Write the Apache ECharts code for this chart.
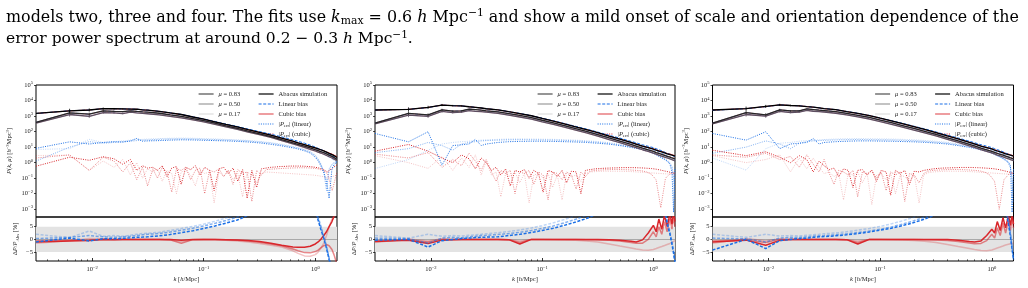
<!DOCTYPE html>
<html>
<head>
<meta charset="utf-8">
<script src="https://cdn.jsdelivr.net/npm/echarts@6/dist/echarts.min.js"></script>
<style>
html, body { margin: 0; padding: 0; background: #fff; }
#main { width: 1028px; height: 288px; }
</style>
</head>
<body>
<div id="main"></div>
<script>
// k bins [h/Mpc] of the smooth curves and of the residuals
var kBins = [0.00314, 0.00628, 0.00942, 0.01257, 0.0157, 0.0188, 0.022, 0.0251, 0.0283, 0.0314,
    0.04, 0.05, 0.063, 0.08, 0.1, 0.126, 0.158, 0.2, 0.25, 0.316,
    0.4, 0.5, 0.63, 0.7, 0.8, 0.9, 1.0, 1.06, 1.12, 1.19,
    1.26, 1.33, 1.41, 1.47, 1.52, 1.565];
// k bins of the noisy |P_err| (cubic) curves
var kFine = [0.00314, 0.00628, 0.00942, 0.01257, 0.0157, 0.0188, 0.022, 0.0251, 0.0283, 0.0314,
    0.035, 0.0385, 0.0425, 0.0469, 0.0517, 0.057, 0.0628, 0.0692, 0.0763, 0.0841,
    0.0927, 0.102, 0.113, 0.124, 0.137, 0.151, 0.166, 0.183, 0.202, 0.223,
    0.245, 0.27, 0.298, 0.329, 0.362, 0.4, 0.441, 0.486, 0.535, 0.59,
    0.65, 0.716, 0.79, 0.871, 0.96, 1.058, 1.166, 1.285, 1.418, 1.565];
var muLabels = ['μ = 0.83', 'μ = 0.50', 'μ = 0.17'];
var modelLabels = ['Abacus simulation', 'Linear bias', 'Cubic bias', '|P_err| (linear)', '|P_err| (cubic)'];
var decadeTicks = [-3, -2, -1, 0, 1, 2, 3, 4, 5];
var kDecadeTicks = [-2, -1, 0];
var residualTicks = [-5, 0, 5];
// half length (in decades) of the Abacus error bars on the first large-scale bins
var abacusErrDex = [0, 0.13, 0.1, 0.07, 0.05, 0.04];

// ---- panel 1 ---- (log10 P; rows are mu = 0.83, 0.50, 0.17)
var abacusP1 = [
    [3.17, 3.34, 3.39, 3.48, 3.47, 3.46, 3.45, 3.44, 3.40, 3.38, 3.30, 3.20, 3.10, 2.94, 2.80, 2.63, 2.46, 2.30, 2.12, 1.95, 1.77, 1.58, 1.38, 1.28, 1.16, 1.05, 0.95, 0.89, 0.83, 0.76, 0.68, 0.60, 0.52, 0.45, 0.39, 0.33],
    [2.60, 3.20, 3.12, 3.33, 3.30, 3.28, 3.34, 3.30, 3.27, 3.25, 3.18, 3.08, 2.98, 2.84, 2.70, 2.54, 2.37, 2.21, 2.03, 1.86, 1.68, 1.48, 1.28, 1.18, 1.06, 0.95, 0.84, 0.78, 0.71, 0.64, 0.56, 0.48, 0.40, 0.33, 0.27, 0.21],
    [2.55, 3.10, 2.98, 3.22, 3.20, 3.16, 3.25, 3.20, 3.17, 3.15, 3.08, 2.98, 2.88, 2.75, 2.62, 2.47, 2.31, 2.15, 1.97, 1.80, 1.62, 1.42, 1.21, 1.11, 0.98, 0.86, 0.75, 0.68, 0.62, 0.54, 0.46, 0.38, 0.30, 0.23, 0.17, 0.12]
];
var errLinP1 = [
    [0.92, 1.34, 1.20, 1.30, 1.35, 1.32, 1.40, 1.56, 1.38, 1.40, 1.42, 1.45, 1.47, 1.46, 1.44, 1.42, 1.40, 1.37, 1.33, 1.27, 1.18, 1.08, 0.95, 0.88, 0.76, 0.62, 0.35, 0.12, -0.2, -0.6, -1.2, -2.3, -0.4, -0.15, -0.05, 0.05],
    [0.1, 1.0, 1.35, 1.25, 1.3, 1.35, 1.38, 1.42, 1.45, 1.46, 1.5, 1.52, 1.53, 1.52, 1.50, 1.48, 1.46, 1.43, 1.39, 1.33, 1.25, 1.14, 1.0, 0.93, 0.82, 0.68, 0.45, 0.2, -0.1, -0.6, -1.8, -0.4, -0.1, 0.0, 0.05, 0.08],
    [0.85, 0.9, 1.5, 1.3, 1.35, 1.4, 1.45, 1.48, 1.5, 1.52, 1.55, 1.57, 1.58, 1.57, 1.55, 1.53, 1.5, 1.47, 1.43, 1.37, 1.29, 1.18, 1.05, 0.97, 0.86, 0.72, 0.5, 0.25, -0.05, -0.5, -1.5, -0.5, -0.15, -0.05, 0.0, 0.05]
];
var errCubP1 = [
    [-0.23, 0.35, 0.15, 0.38, 0.25, -0.1, 0.2, -0.5, -0.2, -0.35, -0.3, -0.5, -0.2, -0.9, -0.35, -0.25, -1.4, -0.3, -0.45, -0.2, -0.8, -0.3, -0.5, -1.8, -0.4, -0.3, -0.7, -0.35, -1.2, -0.45, -2.3, -0.5, -1.6, -0.4, -0.35, -0.3, -0.28, -0.25, -0.24, -0.22, -0.22, -0.22, -0.23, -0.25, -0.28, -0.33, -0.42, -0.6, -0.35, -0.15],
    [0.3, 0.5, -0.5, 0.35, 0.1, -0.6, 0.0, -1.1, -0.3, -1.5, -0.4, -1.0, -0.3, -0.6, -1.9, -0.4, -0.5, -0.3, -1.1, -0.5, -0.35, -2.0, -0.5, -0.6, -0.4, -0.9, -0.5, -1.4, -0.45, -0.7, -0.6, -2.5, -0.5, -0.8, -0.45, -0.42, -0.4, -0.38, -0.36, -0.35, -0.34, -0.33, -0.33, -0.34, -0.36, -0.4, -0.5, -0.7, -1.8, -0.6],
    [0.46, 0.48, -0.5, 0.1, -0.3, 0.2, -0.8, 0.0, -1.0, -0.4, -0.6, -0.4, -1.2, -0.5, -0.7, -2.0, -0.6, -0.5, -0.8, -1.5, -0.5, -0.7, -0.6, -2.6, -0.6, -0.9, -0.5, -1.1, -0.7, -2.2, -0.6, -0.8, -1.3, -0.7, -0.6, -0.62, -0.64, -0.66, -0.68, -0.7, -0.72, -0.74, -0.76, -0.78, -0.8, -0.84, -0.9, -1.0, -0.9, -0.8]
];
// residuals in percent
var resLinP1 = [
    [-1.0, 0.5, -0.6, 0.3, 0.2, 0.4, 0.6, 0.8, 0.9, 1.0, 1.4, 1.9, 2.6, 3.4, 4.3, 5.3, 6.4, 7.6, 9.5, 12, 16, 20, 24, 25, 25, 21, 12, 7.5, 4, 0.5, -3.5, -8, -12, -16, -20, -24],
    [0.3, 0.8, 1.5, 1.0, 0.8, 1.0, 1.2, 1.5, 1.8, 2.0, 2.3, 2.9, 3.6, 4.4, 5.3, 6.3, 7.4, 8.8, 10.5, 13, 17, 21, 25, 26, 26, 22, 13, 8.5, 5, 1, -3, -7.5, -12, -16, -20, -24],
    [2.0, 0.7, 3.3, 1.2, 1.5, 1.2, 1.6, 2.0, 2.3, 2.4, 2.8, 3.5, 4.3, 5.1, 6.0, 7.1, 8.4, 10, 12, 14.5, 18.5, 22.5, 26.5, 27.5, 27, 23, 14, 9, 5.5, 1.5, -2.5, -7, -11.5, -15.5, -19.5, -23.5]
];
var resCubP1 = [
    [-1.0, -0.6, -0.4, 0, -0.1, 0, 0, 0, 0, 0, 0, 0, -0.3, 0, 0, 0, -0.1, -0.2, -0.4, -0.8, -1.5, -2.3, -3.0, -3.1, -3.1, -2.7, -1.8, -1.0, 0, 1.5, 3, 5, 7, 9, 11, 12],
    [-0.5, -0.3, -0.2, 0, 0, 0, 0, 0, 0, 0, 0, -0.2, -1.5, -0.1, 0, 0, -0.1, -0.3, -0.6, -1.1, -1.8, -2.5, -3.8, -4.5, -5.2, -5.3, -4.8, -4.2, -3.3, -2.5, -2.0, -2.5, -4, -6, -8, -10],
    [-1.5, -0.5, 0.3, 0.2, 0, 0, 0, 0, 0, 0, 0, -0.2, -0.8, -0.1, 0, -0.1, -0.3, -0.6, -1.0, -1.6, -2.3, -3.0, -4.5, -5.5, -6.5, -6.6, -6.0, -5.0, -3.5, -1.5, 1.5, 5, 8, 10, 12, 14]
];

// ---- panel 2 ----
var abacusP2 = [
    [3.39, 3.43, 3.56, 3.71, 3.67, 3.65, 3.60, 3.56, 3.52, 3.47, 3.40, 3.28, 3.16, 3.02, 2.85, 2.68, 2.50, 2.31, 2.13, 1.93, 1.71, 1.52, 1.30, 1.20, 1.06, 0.96, 0.87, 0.80, 0.74, 0.69, 0.63, 0.57, 0.52, 0.48, 0.45, 0.42],
    [2.55, 3.17, 3.07, 3.40, 3.32, 3.33, 3.45, 3.42, 3.38, 3.34, 3.27, 3.16, 3.04, 2.90, 2.73, 2.56, 2.38, 2.19, 2.01, 1.81, 1.59, 1.39, 1.17, 1.07, 0.93, 0.82, 0.72, 0.65, 0.59, 0.53, 0.47, 0.41, 0.35, 0.30, 0.27, 0.24],
    [2.50, 3.06, 2.98, 3.30, 3.22, 3.25, 3.35, 3.30, 3.28, 3.25, 3.17, 3.06, 2.94, 2.80, 2.63, 2.46, 2.28, 2.09, 1.91, 1.71, 1.49, 1.29, 1.07, 0.97, 0.83, 0.72, 0.62, 0.55, 0.48, 0.42, 0.36, 0.30, 0.24, 0.19, 0.15, 0.12]
];
var errLinP2 = [
    [1.88, 1.34, 1.99, -0.16, 1.1, 1.15, 1.2, 1.5, 1.1, 1.2, 1.3, 1.35, 1.37, 1.38, 1.38, 1.37, 1.35, 1.33, 1.3, 1.25, 1.19, 1.1, 0.98, 0.92, 0.83, 0.72, 0.6, 0.5, 0.4, 0.3, 0.2, 0.1, -0.1, -0.6, -3.2, -0.3],
    [0.64, 0.9, 1.3, 1.1, 0.8, 1.2, 1.3, 1.35, 1.4, 1.42, 1.45, 1.47, 1.48, 1.47, 1.46, 1.45, 1.43, 1.40, 1.36, 1.31, 1.24, 1.14, 1.01, 0.94, 0.84, 0.73, 0.62, 0.53, 0.44, 0.34, 0.24, 0.12, -0.05, -0.3, -1.0, -2.5],
    [-0.38, 0.2, 0.8, 1.2, 1.3, 1.35, 1.38, 1.42, 1.45, 1.47, 1.5, 1.52, 1.53, 1.52, 1.51, 1.5, 1.48, 1.45, 1.41, 1.36, 1.29, 1.19, 1.06, 0.99, 0.89, 0.78, 0.67, 0.58, 0.49, 0.39, 0.29, 0.17, 0.0, -0.25, -0.8, -2.0]
];
var errCubP2 = [
    [0.74, 1.17, 0.74, 0.3, 0.0, 0.5, 0.25, -0.4, 0.3, 0.0, -0.5, -0.3, -0.8, -0.4, -1.5, -0.5, -0.6, -0.45, -1.0, -0.5, -0.7, -1.9, -0.5, -0.6, -0.9, -0.5, -1.3, -0.55, -0.6, -2.0, -0.5, -0.45, -0.4, -0.38, -0.36, -0.35, -0.34, -0.33, -0.32, -0.32, -0.32, -0.33, -0.34, -0.36, -0.38, -0.42, -0.48, -0.55, -0.62, -0.7],
    [0.55, 0.3, 0.65, -0.3, 0.2, -0.2, 0.6, 0.1, -0.5, 0.2, -0.6, -1.2, -0.5, -0.7, -0.5, -2.0, -0.6, -0.7, -0.5, -1.4, -0.6, -0.8, -2.4, -0.6, -0.7, -1.1, -0.6, -0.8, -1.7, -0.6, -0.9, -0.55, -0.5, -0.48, -0.46, -0.45, -0.44, -0.44, -0.45, -0.46, -0.48, -0.5, -0.53, -0.6, -0.75, -1.1, -2.9, -1.0, -0.7, -0.65],
    [0.45, 0.0, -0.37, 0.4, -0.5, 0.3, -0.3, 0.5, -0.8, 0.1, -0.8, -0.6, -2.2, -0.7, -0.9, -0.6, -1.3, -0.7, -2.6, -0.8, -0.7, -1.0, -0.7, -1.6, -0.8, -2.4, -0.7, -0.9, -0.8, -1.2, -0.7, -0.6, -0.58, -0.56, -0.55, -0.55, -0.55, -0.55, -0.56, -0.57, -0.58, -0.6, -0.62, -0.64, -0.66, -0.68, -0.7, -0.72, -0.74, -0.76]
];
var resLinP2 = [
    [-0.3, 0, -3.0, -0.5, 0, 0.3, 0.5, 0.7, 0.8, 0.9, 1.0, 1.5, 2.0, 2.7, 3.5, 4.4, 5.5, 6.8, 8.2, 10, 12.5, 15, 18, 20, 22, 24, 25, 25, 24, 19, 12, 6, 2, -2, -5.5, -9],
    [0.5, 0.3, -1.5, 0.5, 0.8, 0.6, 1.0, 1.2, 1.5, 1.6, 1.9, 2.3, 2.8, 3.5, 4.3, 5.3, 6.5, 7.9, 9.5, 11.5, 14, 17, 20, 22, 24, 26, 27, 27, 26, 21, 13, 7, 2.5, -1.5, -5, -9],
    [1.5, 0.5, 2.0, 1.2, 1.5, 1.3, 1.6, 1.8, 2.0, 2.2, 2.6, 3.1, 3.7, 4.5, 5.4, 6.5, 7.8, 9.3, 11, 13, 16, 19, 22, 24, 26, 28, 29, 29, 28, 22, 14, 8, 3, -1, -4.5, -8.5]
];
var resCubP2 = [
    [-0.8, -0.3, -1.6, -0.3, -0.1, 0, 0, 0, 0, 0, 0, -0.1, -1.8, 0, 0, 0, 0, 0, 0, 0, -0.1, -0.3, -0.7, -1.0, -0.2, 2.5, 5.5, 3, 8, 4, 9.5, 5, 10, 6, 11, 7],
    [-0.5, -0.2, -1.0, 0, 0, 0, 0, 0, 0, 0, 0, -0.1, -1.2, 0, 0, 0, 0, 0, -0.1, -0.2, -0.3, -0.6, -1.2, -1.5, -1.5, 0, 3, 1, 5, 2, 7, 3, 8, 4, 9, 5],
    [-1.2, 0.2, -0.6, 0.3, 0, 0, 0, 0, 0, 0, 0, -0.1, -0.6, 0, 0, -0.1, -0.2, -0.3, -0.6, -1.0, -1.8, -2.6, -3.4, -3.8, -4.2, -4.3, -4.0, -3.6, -3.2, -2.8, -2.4, -2.0, -1.6, -1.2, -0.8, -0.5]
];

// ---- panel 3 ----
var abacusP3 = [
    [3.39, 3.48, 3.62, 3.72, 3.68, 3.66, 3.61, 3.57, 3.53, 3.48, 3.41, 3.29, 3.17, 3.03, 2.86, 2.69, 2.51, 2.32, 2.14, 1.94, 1.72, 1.53, 1.31, 1.21, 1.07, 0.97, 0.88, 0.81, 0.75, 0.69, 0.63, 0.57, 0.52, 0.48, 0.45, 0.42],
    [2.55, 3.22, 3.08, 3.40, 3.33, 3.34, 3.46, 3.42, 3.38, 3.35, 3.28, 3.17, 3.05, 2.91, 2.74, 2.57, 2.39, 2.20, 2.02, 1.82, 1.60, 1.40, 1.18, 1.08, 0.94, 0.83, 0.73, 0.66, 0.60, 0.54, 0.48, 0.42, 0.36, 0.31, 0.28, 0.25],
    [2.50, 3.10, 2.99, 3.30, 3.23, 3.26, 3.36, 3.31, 3.29, 3.26, 3.18, 3.07, 2.95, 2.81, 2.64, 2.47, 2.29, 2.10, 1.92, 1.72, 1.50, 1.30, 1.08, 0.98, 0.84, 0.73, 0.63, 0.56, 0.49, 0.43, 0.37, 0.31, 0.25, 0.20, 0.16, 0.13]
];
var errLinP3 = [
    [1.88, 1.45, 1.99, 0.9, 1.2, 1.25, 1.3, 1.55, 1.2, 1.3, 1.35, 1.38, 1.4, 1.4, 1.39, 1.38, 1.36, 1.34, 1.31, 1.26, 1.2, 1.1, 0.98, 0.92, 0.82, 0.72, 0.62, 0.53, 0.45, 0.36, 0.27, 0.17, 0.05, -0.2, -3.2, -0.4],
    [0.6, 1.0, 1.4, 1.2, 0.9, 1.25, 1.35, 1.4, 1.42, 1.44, 1.46, 1.48, 1.49, 1.48, 1.47, 1.46, 1.44, 1.41, 1.37, 1.32, 1.25, 1.15, 1.02, 0.95, 0.85, 0.74, 0.63, 0.54, 0.45, 0.35, 0.25, 0.13, -0.05, -0.35, -1.2, -2.6],
    [0.3, -0.48, 0.9, 1.25, 1.3, 1.38, 1.42, 1.45, 1.47, 1.49, 1.52, 1.54, 1.55, 1.54, 1.53, 1.52, 1.5, 1.47, 1.43, 1.38, 1.31, 1.21, 1.08, 1.01, 0.91, 0.8, 0.69, 0.6, 0.51, 0.41, 0.3, 0.18, 0.0, -0.3, -0.9, -2.0]
];
var errCubP3 = [
    [0.8, 0.45, 0.7, 0.35, 0.0, 0.45, 0.2, -0.6, 0.1, -0.2, -0.45, -0.35, -0.9, -0.4, -0.5, -1.6, -0.5, -0.45, -0.8, -0.5, -1.2, -0.5, -0.6, -2.1, -0.5, -0.7, -0.5, -1.4, -0.55, -0.6, -0.5, -0.45, -0.4, -0.37, -0.35, -0.34, -0.33, -0.32, -0.31, -0.31, -0.31, -0.32, -0.33, -0.35, -0.37, -0.4, -0.45, -0.52, -0.6, -0.68],
    [0.5, 0.35, 0.6, 0.2, 0.4, -0.3, 0.5, -0.1, -0.6, 0.2, -0.7, -1.4, -0.5, -0.6, -0.8, -0.5, -2.2, -0.6, -0.7, -0.5, -1.0, -0.6, -1.8, -0.6, -0.8, -0.6, -2.5, -0.7, -0.8, -1.3, -0.7, -0.55, -0.5, -0.48, -0.46, -0.45, -0.44, -0.44, -0.45, -0.46, -0.48, -0.5, -0.54, -0.62, -0.8, -1.2, -3.0, -1.1, -0.75, -0.68],
    [0.45, 0.0, 0.2, 0.5, -0.6, 0.3, -0.4, 0.3, -0.3, -0.7, -0.6, -0.9, -0.7, -2.4, -0.7, -0.8, -0.6, -1.3, -0.7, -2.7, -0.8, -0.7, -1.1, -0.7, -2.0, -0.8, -0.9, -1.2, -0.8, -2.6, -0.8, -0.65, -0.6, -0.58, -0.56, -0.55, -0.55, -0.55, -0.56, -0.57, -0.58, -0.6, -0.62, -0.64, -0.66, -0.68, -0.7, -0.72, -0.74, -0.76]
];
var resLinP3 = [
    [-4.2, 0, -3.6, -0.5, 0, 0.3, 0.5, 0.8, 1.0, 1.1, 1.4, 1.8, 2.3, 2.9, 3.6, 4.4, 5.4, 6.6, 8, 9.7, 12, 14.5, 17, 19, 21, 23, 24, 24, 23, 21, 17, 12, 6, 1, -4, -8],
    [0.5, 0.2, -1.0, 0.5, 0.8, 0.7, 1.0, 1.2, 1.4, 1.5, 1.8, 2.2, 2.7, 3.3, 4.0, 4.9, 6.0, 7.3, 8.8, 10.6, 13, 16, 19, 21, 23, 25, 26, 26, 25, 23, 19, 13, 7, 2, -3, -8],
    [2.0, 0.8, 2.0, 1.3, 1.5, 1.3, 1.6, 1.8, 2.0, 2.2, 2.5, 3.0, 3.6, 4.3, 5.1, 6.1, 7.3, 8.7, 10.3, 12.3, 15, 18, 21, 23, 25, 27, 28, 28, 27, 25, 21, 15, 8, 3, -2, -7]
];
var resCubP3 = [
    [-1.0, -0.3, -2.3, -0.4, 0, 0, 0, 0, 0, 0, 0, -0.1, -1.8, 0, 0, 0, 0, 0, 0, 0, 0, -0.3, -0.8, -1.0, -0.6, 1.5, 4, 2.5, 7, 3.5, 8.5, 4.5, 9.5, 5.5, 10, 6],
    [-0.6, -0.2, -1.2, 0, 0, 0, 0, 0, 0, 0, 0, -0.1, -1.2, 0, 0, 0, 0, 0, -0.1, -0.2, -0.4, -0.8, -1.4, -1.7, -1.6, -0.5, 2, 0.5, 4.5, 1.5, 6.5, 2.5, 7.5, 3.5, 8.5, 4.5],
    [-1.5, 0.3, -0.5, 0.2, 0, 0, 0, 0, 0, 0, 0, -0.1, -0.6, 0, 0, -0.1, -0.2, -0.4, -0.7, -1.2, -2.0, -2.8, -3.6, -4.0, -4.4, -4.5, -4.2, -3.8, -3.4, -3.0, -2.6, -2.2, -1.9, -1.7, -1.5, -1.4]
];

var captionLines = [
    'models two, three and four. The fits use {i|k}{sub|max} = 0.6 {i|h} Mpc{sup|\u22121} and show a mild onset of scale and orientation dependence of the',
    'error power spectrum at around 0.2 \u2212 0.3 {i|h} Mpc{sup|\u22121}.'
];

(function () {
    var myChart = echarts.init(document.getElementById('main'));
    var SERIF = 'Liberation Serif';
    var BLUE = '#1a6fe6', RED = '#d9262b';
    var abacusColor = ['#000000', '#262626', '#5e4f61'];
    var muAlpha = [1, 0.55, 0.28];
    var XMIN = Math.log10(kBins[0]), XMAX = Math.log10(kBins[kBins.length - 1]);
    var TOP_Y = 85, TOP_H = 132, BOT_Y = 217, BOT_H = 44;
    var DASH = [3, 1.6], DOT = [1, 1.3];
    var CAP_SIZE = [15.9, 15.5];

    var panels = [
        { left: 36, width: 301, ab: abacusP1, el: errLinP1, ec: errCubP1, rl: resLinP1, rc: resCubP1 },
        { left: 375, width: 300, ab: abacusP2, el: errLinP2, ec: errCubP2, rl: resLinP2, rc: resCubP2 },
        { left: 712.5, width: 301, ab: abacusP3, el: errLinP3, ec: errCubP3, rl: resLinP3, rc: resCubP3 }
    ];

    // minor ticks of the log k axis: 2..9 x 10^n
    var kMinorTicks = [];
    [-3, -2, -1, 0].forEach(function (n) {
        for (var m = 2; m <= 9; m++) {
            var v = n + Math.log10(m);
            if (v > XMIN && v < XMAX) kMinorTicks.push(v);
        }
    });

    function powLabel(v) {
        var e = Math.round(v);
        return '10{s|' + (e < 0 ? '\u2212' + (-e) : e) + '}';
    }
    function plainLabel(v) {
        return v < 0 ? '\u2212' + (-v) : '' + v;
    }
    var tickText = {
        fontFamily: SERIF, fontSize: 6.5, color: '#222', lineHeight: 9,
        rich: { s: { fontFamily: SERIF, fontSize: 4.6, color: '#222', verticalAlign: 'top', lineHeight: 9 } }
    };
    var nameText = {
        fontFamily: SERIF, fontSize: 6.5, color: '#222', lineHeight: 9,
        rich: {
            i: { fontFamily: SERIF, fontSize: 6.5, fontStyle: 'italic', color: '#222' },
            s: { fontFamily: SERIF, fontSize: 4.6, color: '#222', verticalAlign: 'top', lineHeight: 9 },
            b: { fontFamily: SERIF, fontSize: 4.6, color: '#222', verticalAlign: 'bottom', lineHeight: 9 }
        }
    };

    function logPts(ks, vals) {
        return ks.map(function (k, i) { return [Math.log10(k), vals[i]]; });
    }
    function modelPts(ab, res) {
        return kBins.map(function (k, i) { return [Math.log10(k), ab[i] + Math.log10(1 + res[i] / 100)]; });
    }
    function resPts(res) {
        return kBins.map(function (k, i) { return [Math.log10(k), res[i]]; });
    }
    function errBarPts(ab) {
        var out = [];
        abacusErrDex.forEach(function (h, i) {
            if (h > 0) out.push([Math.log10(kBins[i]), ab[i], h]);
        });
        return out;
    }
    function line(name, xi, yi, data, color, opacity, width, type, z) {
        return {
            name: name, type: 'line', xAxisIndex: xi, yAxisIndex: yi, data: data,
            symbol: 'none', showSymbol: false, silent: true, animation: false, z: z,
            lineStyle: { color: color, opacity: opacity, width: width, type: type },
            itemStyle: { color: color }
        };
    }
    function errBars(xi, yi, data, color) {
        return {
            type: 'custom', xAxisIndex: xi, yAxisIndex: yi, data: data, silent: true, animation: false, z: 4,
            renderItem: function (params, api) {
                var x = api.value(0), y = api.value(1), h = api.value(2);
                var a = api.coord([x, y - h]), b = api.coord([x, y + h]);
                return { type: 'line', shape: { x1: a[0], y1: a[1], x2: b[0], y2: b[1] }, style: { stroke: color, lineWidth: 0.8 } };
            }
        };
    }

    var grids = [], xAxes = [], yAxes = [], series = [], legends = [];

    panels.forEach(function (p, i) {
        var gTop = 2 * i, gBot = 2 * i + 1;
        var xTop = 3 * i, xBot = 3 * i + 1;
        grids.push({ left: p.left, top: TOP_Y, width: p.width, height: TOP_H, show: true, borderColor: '#000', borderWidth: 1, backgroundColor: 'transparent', containLabel: false, outerBoundsMode: 'none' });
        grids.push({ left: p.left, top: BOT_Y, width: p.width, height: BOT_H, show: true, borderColor: '#000', borderWidth: 1, backgroundColor: 'transparent', containLabel: false, outerBoundsMode: 'none' });

        xAxes.push({ gridIndex: gTop, type: 'value', min: XMIN, max: XMAX, position: 'bottom',
            axisLine: { show: false, onZero: false }, axisTick: { show: false }, axisLabel: { show: false }, splitLine: { show: false } });
        xAxes.push({ gridIndex: gBot, type: 'value', min: XMIN, max: XMAX, position: 'bottom',
            axisLine: { show: false, onZero: false }, splitLine: { show: false },
            axisTick: { show: true, inside: true, length: 3, customValues: kDecadeTicks, lineStyle: { color: '#000', width: 0.8 } },
            axisLabel: Object.assign({ customValues: kDecadeTicks, formatter: powLabel, margin: 4 }, tickText),
            name: '{i|k} [{i|h}/Mpc]', nameLocation: 'middle', nameGap: 13, nameTextStyle: nameText });
        xAxes.push({ gridIndex: gBot, type: 'value', min: XMIN, max: XMAX, position: 'bottom',
            axisLine: { show: false, onZero: false }, splitLine: { show: false }, axisLabel: { show: false },
            axisTick: { show: true, inside: true, length: 1.7, customValues: kMinorTicks, lineStyle: { color: '#000', width: 0.6 } } });

        yAxes.push({ gridIndex: gTop, type: 'value', min: -3.5, max: 5,
            axisLine: { show: false, onZero: false }, splitLine: { show: false },
            axisTick: { show: true, length: 2, customValues: decadeTicks, lineStyle: { color: '#000', width: 0.7 } },
            axisLabel: Object.assign({ customValues: decadeTicks, formatter: powLabel, margin: 3 }, tickText),
            name: '{i|P}({i|k}, {i|μ}) [{i|h}{s|\u22123}Mpc{s|3}]', nameLocation: 'middle', nameGap: 22, nameRotate: 90, nameTextStyle: nameText });
        yAxes.push({ gridIndex: gBot, type: 'value', min: -8.5, max: 8.8,
            axisLine: { show: false, onZero: false }, splitLine: { show: false },
            axisTick: { show: true, length: 2, customValues: residualTicks, lineStyle: { color: '#000', width: 0.7 } },
            axisLabel: Object.assign({ customValues: residualTicks, formatter: plainLabel, margin: 3 }, tickText),
            name: 'Δ{i|P}/{i|P}{b|Abs} [%]', nameLocation: 'middle', nameGap: 16, nameRotate: 90, nameTextStyle: nameText });

        var yT = 2 * i, yB = 2 * i + 1;
        var j;
        // top panel: |P_err| first, then the models, Abacus on top
        for (j = 2; j >= 0; j--) {
            series.push(line('errCub' + i + j, xTop, yT, logPts(kFine, p.ec[j]), RED, muAlpha[j], 1, DOT, 2));
            series.push(line('errLin' + i + j, xTop, yT, logPts(kBins, p.el[j]), BLUE, muAlpha[j], 1, DOT, 2));
        }
        for (j = 2; j >= 0; j--) {
            series.push(line('cub' + i + j, xTop, yT, modelPts(p.ab[j], p.rc[j]), RED, muAlpha[j], 1, 'solid', 3));
            series.push(line('lin' + i + j, xTop, yT, modelPts(p.ab[j], p.rl[j]), BLUE, muAlpha[j], 1, DASH, 3));
        }
        for (j = 2; j >= 0; j--) {
            series.push(line('abacus' + i + j, xTop, yT, logPts(kBins, p.ab[j]), abacusColor[j], 1, 1.3, 'solid', 4));
            series.push(errBars(xTop, yT, errBarPts(p.ab[j]), abacusColor[j]));
        }
        // bottom panel: +-5% band and zero line
        series.push({ type: 'line', xAxisIndex: xBot, yAxisIndex: yB, data: [], silent: true, z: 1, symbol: 'none',
            markArea: { silent: true, z: 1, itemStyle: { color: '#e3e3e3' }, data: [[{ yAxis: -5 }, { yAxis: 5 }]] },
            markLine: { silent: true, z: 1, symbol: ['none', 'none'], label: { show: false }, animation: false,
                lineStyle: { color: '#9a9a9a', width: 0.8, type: 'solid' }, data: [{ yAxis: 0 }] } });
        for (j = 2; j >= 0; j--) {
            series.push(line('resCub' + i + j, xBot, yB, resPts(p.rc[j]), RED, muAlpha[j], 1.5, 'solid', 3));
        }
        for (j = 2; j >= 0; j--) {
            series.push(line('resLin' + i + j, xBot, yB, resPts(p.rl[j]), BLUE, muAlpha[j], 1.5, DASH, 4));
        }

        var legendBase = {
            orient: 'vertical', itemWidth: 15, itemHeight: 6, itemGap: 2, padding: 0, selectedMode: false, z: 1,
            itemStyle: { opacity: 0 }, lineStyle: { width: 1.2 },
            formatter: function (name) {
                return name.replace('μ', '{i|μ}').replace('|P_err|', '|{i|P}{b|err}|');
            },
            textStyle: {
                fontFamily: SERIF, fontSize: 6.5, color: '#222', lineHeight: 8,
                rich: {
                    i: { fontFamily: SERIF, fontSize: 6.5, fontStyle: 'italic', color: '#222' },
                    b: { fontFamily: SERIF, fontSize: 4.6, color: '#222', verticalAlign: 'bottom' }
                }
            }
        };
        legends.push(Object.assign({ data: muLabels, left: p.left + 162, top: 90 }, legendBase));
        legends.push(Object.assign({ data: modelLabels, left: p.left + 222, top: 90 }, legendBase));
    });

    // series that only feed the legends
    var legendStyles = [
        ['μ = 0.83', '#4d4d4d', 1, 'solid'], ['μ = 0.50', '#9b9b9b', 1, 'solid'], ['μ = 0.17', '#dedede', 1, 'solid'],
        ['Abacus simulation', '#000000', 1, 'solid'], ['Linear bias', BLUE, 1, DASH], ['Cubic bias', RED, 0.75, 'solid'],
        ['|P_err| (linear)', BLUE, 1, DOT], ['|P_err| (cubic)', RED, 1, DOT]
    ];
    legendStyles.forEach(function (s) {
        series.push(line(s[0], 0, 0, [], s[1], s[2], 1.2, s[3], 0));
    });

    function capRich(size) {
        return {
            i: { fontFamily: 'DejaVu Serif', fontSize: size, fontStyle: 'italic', fill: '#000' },
            sub: { fontFamily: 'DejaVu Serif', fontSize: size * 0.68, verticalAlign: 'bottom', fill: '#000' },
            sup: { fontFamily: 'DejaVu Serif', fontSize: size * 0.68, verticalAlign: 'top', fill: '#000' }
        };
    }

    var option = {
        animation: false,
        backgroundColor: '#fff',
        grid: grids,
        xAxis: xAxes,
        yAxis: yAxes,
        legend: legends,
        series: series,
        graphic: captionLines.map(function (t, i) {
            return { type: 'text', left: 6, top: 8 + i * 21.5, silent: true,
                style: { text: t, fontFamily: 'DejaVu Serif', fontSize: CAP_SIZE[i], lineHeight: 19, fill: '#000', rich: capRich(CAP_SIZE[i]) } };
        })
    };
    myChart.setOption(option);
    window.addEventListener('resize', function () {
        myChart.resize();
    });
})();
</script>
</body>
</html>
